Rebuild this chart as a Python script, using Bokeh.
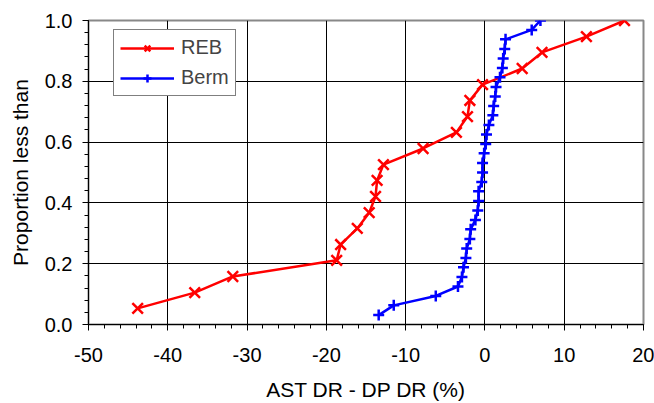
from bokeh.plotting import figure
from bokeh.models import Range1d, SingleIntervalTicker, NumeralTickFormatter, Legend, LegendItem
from bokeh.embed import file_html
from bokeh.resources import INLINE

reb_x = [-43.8, -36.6, -31.8, -18.7, -18.2, -16.1, -14.6, -13.8, -13.6, -12.8,
         -7.8, -3.6, -2.2, -1.9, -0.3, 4.7, 7.2, 12.8, 17.6]
reb_y = [0.053, 0.105, 0.158, 0.211, 0.263, 0.316, 0.368, 0.421, 0.474, 0.526,
         0.579, 0.632, 0.684, 0.737, 0.789, 0.842, 0.895, 0.947, 1.0]

berm_x = [-13.4, -11.5, -6.2, -3.4, -2.9, -2.7, -2.4, -2.3, -1.9, -1.8, -1.2,
          -0.9, -0.8, -0.8, -0.4, -0.3, -0.3, -0.1, 0.1, 0.2, 0.5, 1.0, 1.1,
          1.3, 1.4, 1.9, 2.2, 2.3, 2.5, 2.6, 5.9, 7.0]
berm_y = [0.031, 0.063, 0.094, 0.125, 0.156, 0.188, 0.219, 0.25, 0.281, 0.313,
          0.344, 0.375, 0.406, 0.438, 0.469, 0.5, 0.531, 0.563, 0.594, 0.625,
          0.656, 0.688, 0.719, 0.75, 0.781, 0.813, 0.844, 0.875, 0.906, 0.938,
          0.969, 1.0]

x_label = "AST DR - DP DR (%)"
y_label = "Proportion less than"
FONT = "Liberation Sans"
FS = "20px"

p = figure(width=654, height=403, output_backend="svg", toolbar_location=None,
           x_range=Range1d(-50, 20), y_range=Range1d(0, 1.0),
           min_border_left=88, min_border_right=11, min_border_top=20,
           min_border_bottom=79)
p.background_fill_color = "white"
p.border_fill_color = "white"
p.outline_line_color = "#888888"
p.outline_line_width = 2

p.xaxis.ticker = SingleIntervalTicker(interval=10, num_minor_ticks=5)
p.yaxis.ticker = SingleIntervalTicker(interval=0.2, num_minor_ticks=5)
p.xaxis.formatter = NumeralTickFormatter(format="0")
p.yaxis.formatter = NumeralTickFormatter(format="0.0")

for ax in (p.xaxis[0], p.yaxis[0]):
    ax.axis_line_color = "black"
    ax.axis_line_width = 1
    ax.major_tick_line_color = "black"
    ax.minor_tick_line_color = "black"
    ax.major_tick_out = 6
    ax.major_tick_in = 0
    ax.minor_tick_out = 4
    ax.minor_tick_in = 0
    ax.major_label_text_font = FONT
    ax.major_label_text_font_size = FS
    ax.major_label_text_color = "black"
    ax.axis_label_text_font = FONT
    ax.axis_label_text_font_size = "21px"
    ax.axis_label_text_font_style = "normal"
    ax.axis_label_text_color = "black"

p.xaxis.axis_label = x_label
p.yaxis.axis_label = y_label
p.xaxis.major_label_standoff = 17
p.xaxis.axis_label_standoff = 13
p.yaxis.major_label_standoff = 10
p.yaxis.axis_label_standoff = 10

p.xgrid.ticker = SingleIntervalTicker(interval=10)
p.ygrid.ticker = SingleIntervalTicker(interval=0.2)
for g in (p.xgrid[0], p.ygrid[0]):
    g.grid_line_color = "black"
    g.grid_line_width = 1

r_reb_l = p.line(reb_x, reb_y, line_color="#ff0000", line_width=2.5)
r_reb_m = p.scatter(reb_x, reb_y, marker="x", size=15, line_color="#ff0000", line_width=2.5)
r_berm_l = p.line(berm_x, berm_y, line_color="#0000ff", line_width=2.5)
r_berm_m = p.scatter(berm_x, berm_y, marker="cross", size=11, line_color="#0000ff", line_width=2.5)

legend = Legend(items=[LegendItem(label="REB", renderers=[r_reb_l, r_reb_m]),
                       LegendItem(label="Berm", renderers=[r_berm_l, r_berm_m])],
                location=(25, 228))
legend.label_text_font = FONT
legend.label_text_font_size = FS
legend.glyph_width = 54
legend.glyph_height = 20
legend.label_height = 20
legend.label_standoff = 7
legend.spacing = 7
legend.padding = 6
legend.margin = 0
legend.border_line_color = "black"
legend.border_line_width = 1
legend.background_fill_alpha = 1.0
p.add_layout(legend)

open("out.html", "w").write(file_html(p, INLINE))
